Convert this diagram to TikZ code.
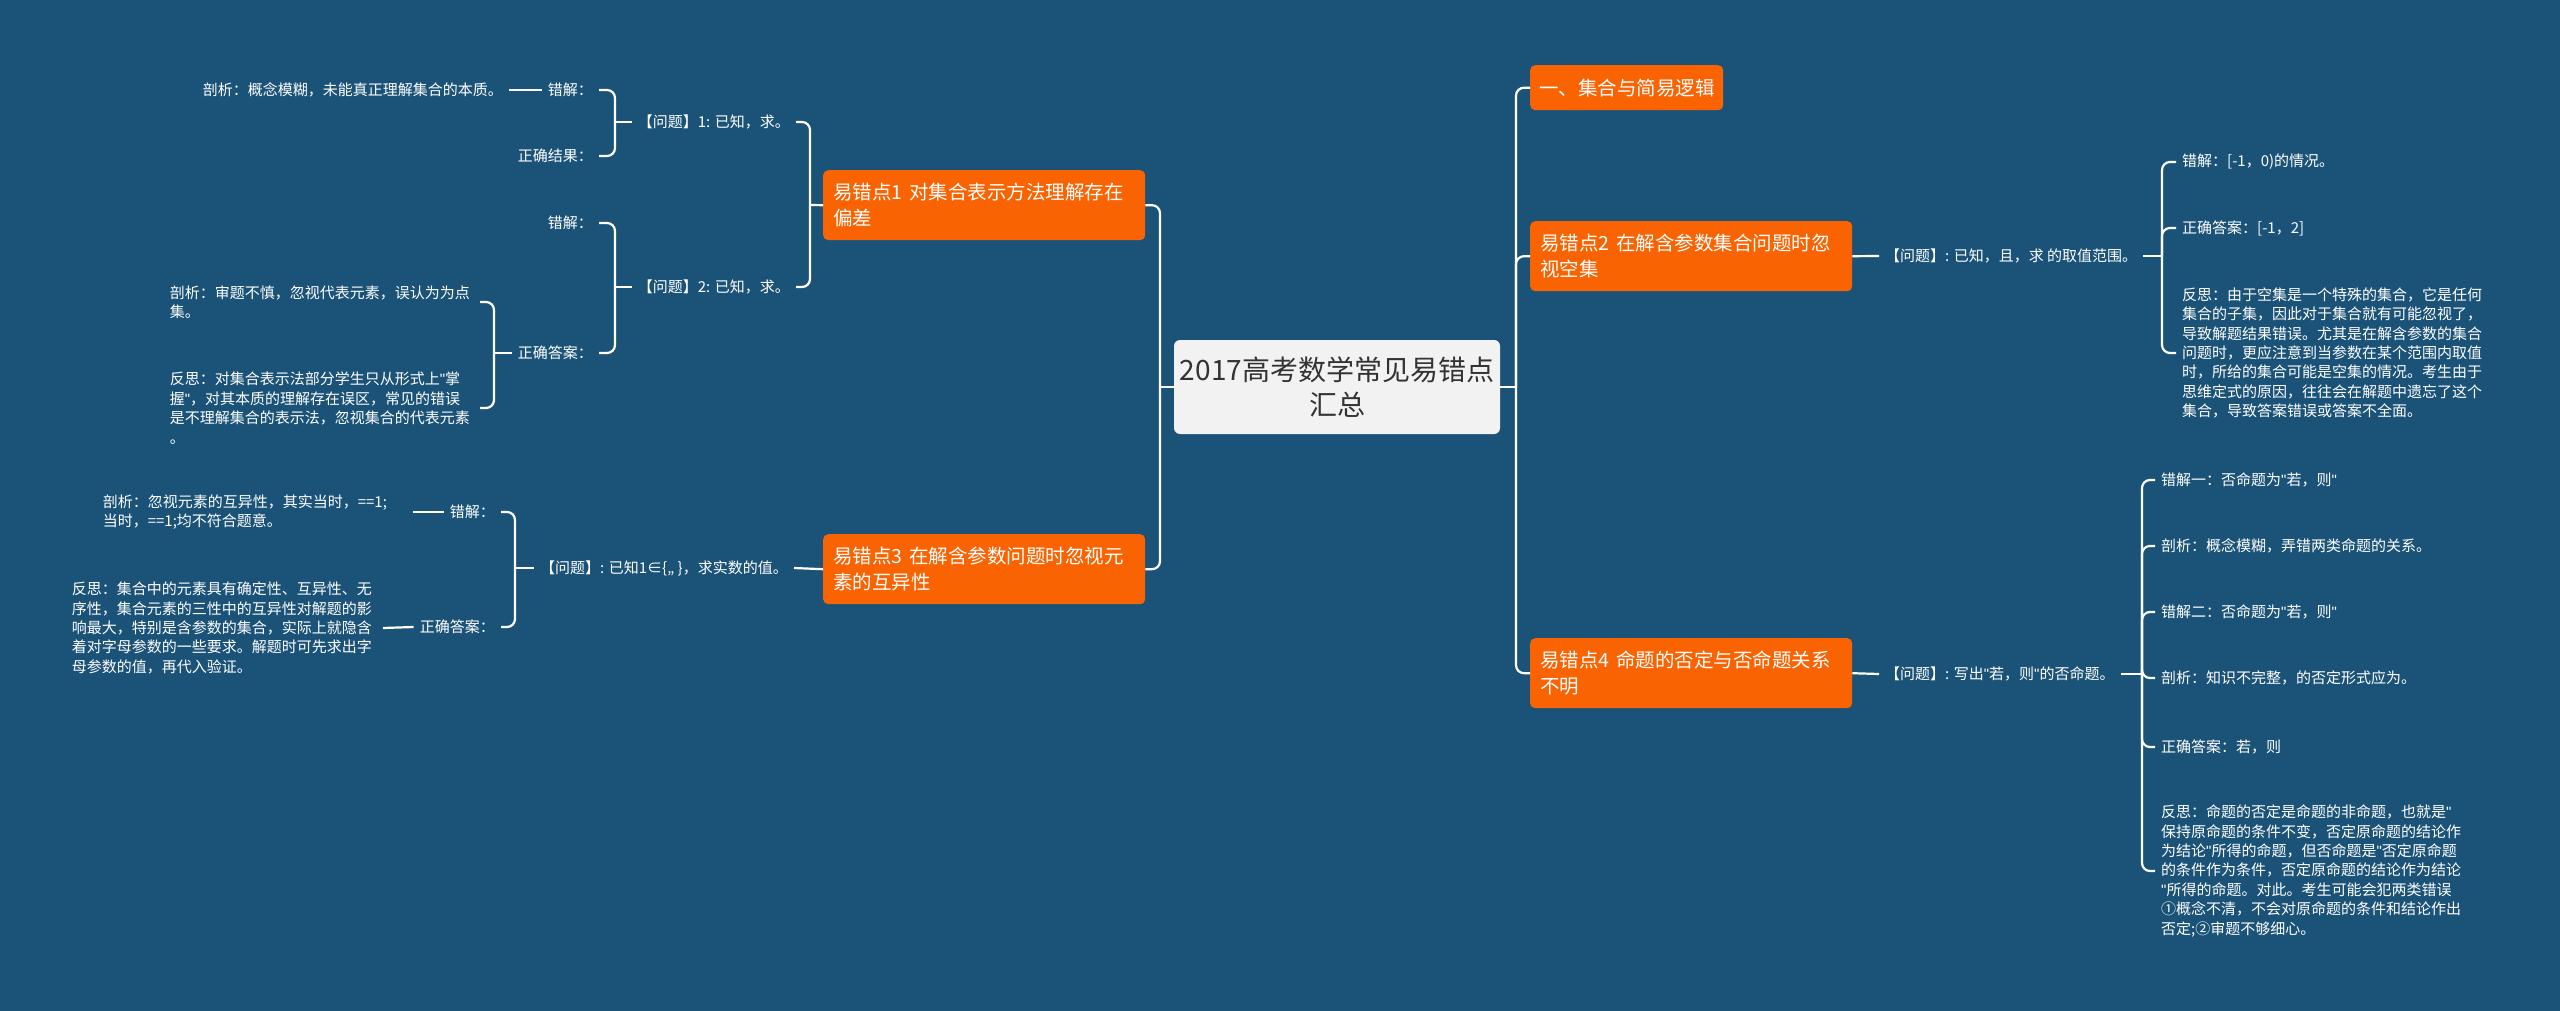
\documentclass[tikz,border=0pt]{standalone}
\usepackage{fontspec}
\setmainfont{Noto Sans CJK SC}
\newfontfamily\latinfnt{Liberation Sans}
\newcommand{\qmk}{{\latinfnt "}}
\definecolor{bg}{HTML}{1B5378}
\definecolor{org}{HTML}{F96302}
\definecolor{mainfill}{HTML}{F2F2F2}
\definecolor{maintext}{HTML}{333333}
\tikzset{
  rootbox/.style={fill=mainfill, rounded corners=6pt, text=maintext, font=\fontsize{28}{35}\selectfont, minimum width=326pt, minimum height=94pt, align=center, inner sep=0pt},
  lvlbox/.style={fill=org, rounded corners=5pt, text=white, font=\fontsize{19.5}{26}\selectfont, inner xsep=10pt, inner ysep=4pt, align=left, minimum height=70pt, anchor=north west},
  txt/.style={text=white, font=\fontsize{15}{19.4}\selectfont, inner xsep=6pt, inner ysep=3pt, align=left},
  link/.style={draw=white, line width=2.2pt},
  brk/.style={link, rounded corners=8pt},
}
\begin{document}
\begin{tikzpicture}[x=1pt,y=-1pt]
\useasboundingbox (0,0) rectangle (2560,1011);
\fill[bg] (0,0) rectangle (2560,1011);

% root and main topics
\node[rootbox] (root) at (1337,387) {2017高考数学常见易错点\\汇总};
\node[lvlbox, text width=302pt] (L1) at (823,170) {易错点1 对集合表示方法理解存在\\偏差};
\node[lvlbox, text width=302pt] (L3) at (823,534) {易错点3 在解含参数问题时忽视元\\素的互异性};
\node[lvlbox, text width=175pt, inner xsep=9pt, minimum height=45pt] (B0) at (1530,65) {一、集合与简易逻辑};
\node[lvlbox, text width=302pt] (B2) at (1530,221) {易错点2 在解含参数集合问题时忽\\视空集};
\node[lvlbox, text width=302pt] (B4) at (1530,638) {易错点4 命题的否定与否命题关系\\不明};

% left level 2
\node[txt, anchor=east] (Q1) at (796,122) {【问题】1: 已知，求。};
\node[txt, anchor=east] (Q2) at (796,287) {【问题】2: 已知，求。};
\node[txt, anchor=east] (Q3) at (794,568) {【问题】: 已知1∈\{,, \}，求实数的值。};

% left level 3
\node[txt, anchor=east] (E1) at (599,90) {错解：};
\node[txt, anchor=east] (R1) at (599,156) {正确结果：};
\node[txt, anchor=east] (A1) at (509,90) {剖析：概念模糊，未能真正理解集合的本质。};
\node[txt, anchor=east] (E2) at (599,223) {错解：};
\node[txt, anchor=east] (C2) at (599,353) {正确答案：};
\node[txt, anchor=east, text width=304pt] (A2) at (480,302) {剖析：审题不慎，忽视代表元素，误认为为点\\集。};
\node[txt, anchor=east, text width=304pt] (F2) at (480,408) {反思：对集合表示法部分学生只从形式上\qmk 掌\\握\qmk ，对其本质的理解存在误区，常见的错误\\是不理解集合的表示法，忽视集合的代表元素\\。};
\node[txt, anchor=east] (E3) at (501,512) {错解：};
\node[txt, anchor=east] (C3) at (501,627) {正确答案：};
\node[txt, anchor=east, text width=304pt] (A3) at (413,512) {剖析：忽视元素的互异性，其实当时，==1;\\当时，==1;均不符合题意。};
\node[txt, anchor=east, text width=305pt] (F3) at (383,628) {反思：集合中的元素具有确定性、互异性、无\\序性，集合元素的三性中的互异性对解题的影\\响最大，特别是含参数的集合，实际上就隐含\\着对字母参数的一些要求。解题时可先求出字\\母参数的值，再代入验证。};

% right side
\node[txt, anchor=west] (P2) at (1879,256) {【问题】: 已知，且，求 的取值范围。};
\node[txt, anchor=west] (W1) at (2176,162) {错解：[-1，0)的情况。};
\node[txt, anchor=west] (W2) at (2176,228) {正确答案：[-1，2]};
\node[txt, anchor=west, text width=310pt] (W3) at (2176,353) {反思：由于空集是一个特殊的集合，它是任何\\集合的子集，因此对于集合就有可能忽视了，\\导致解题结果错误。尤其是在解含参数的集合\\问题时，更应注意到当参数在某个范围内取值\\时，所给的集合可能是空集的情况。考生由于\\思维定式的原因，往往会在解题中遗忘了这个\\集合，导致答案错误或答案不全面。};

\node[txt, anchor=west] (P4) at (1879,674) {【问题】: 写出\qmk 若，则\qmk 的否命题。};
\node[txt, anchor=west] (V1) at (2155,480) {错解一：否命题为\qmk 若，则\qmk};
\node[txt, anchor=west] (V2) at (2155,546) {剖析：概念模糊，弄错两类命题的关系。};
\node[txt, anchor=west] (V3) at (2155,612) {错解二：否命题为\qmk 若，则\qmk};
\node[txt, anchor=west] (V4) at (2155,678) {剖析：知识不完整，的否定形式应为。};
\node[txt, anchor=west] (V5) at (2155,747) {正确答案：若，则};
\node[txt, anchor=west, text width=310pt] (V6) at (2155,871) {反思：命题的否定是命题的非命题，也就是\qmk\\保持原命题的条件不变，否定原命题的结论作\\为结论\qmk 所得的命题，但否命题是\qmk 否定原命题\\的条件作为条件，否定原命题的结论作为结论\\\qmk 所得的命题。对此。考生可能会犯两类错误\\①概念不清，不会对原命题的条件和结论作出\\否定;②审题不够细心。};

% spine coordinates
\coordinate (sRL) at (1160,387);
\coordinate (sRR) at (1516,387);
\coordinate (sL1) at (810,205);
\coordinate (sQ1) at (615,122);
\coordinate (sQ2) at (615,287);
\coordinate (sC2) at (494,353);
\coordinate (sQ3) at (515,568);
\coordinate (sP2) at (2162,256);
\coordinate (sP4) at (2142,674);

% connectors: root
\draw[link] (root.west) -- (sRL);
\draw[brk] (sRL) |- (L1.east);
\draw[brk] (sRL) |- (L3.east);
\draw[link] (root.east) -- (sRR);
\draw[brk] (sRR) |- (B0.west);
\draw[brk] (sRR) |- (B2.west);
\draw[brk] (sRR) |- (B4.west);

% left branch 1
\draw[link] (L1.west) -- (sL1);
\draw[brk] (sL1) |- (Q1.east);
\draw[brk] (sL1) |- (Q2.east);
\draw[link] (Q1.west) -- (sQ1);
\draw[brk] (sQ1) |- (E1.east);
\draw[brk] (sQ1) |- (R1.east);
\draw[link] (E1.west) -- (A1.east);
\draw[link] (Q2.west) -- (sQ2);
\draw[brk] (sQ2) |- (E2.east);
\draw[brk] (sQ2) |- (C2.east);
\draw[link] (C2.west) -- (sC2);
\draw[brk] (sC2) |- (A2.east);
\draw[brk] (sC2) |- (F2.east);

% left branch 3
\draw[link] (L3.west) -- (Q3.east);
\draw[link] (Q3.west) -- (sQ3);
\draw[brk] (sQ3) |- (E3.east);
\draw[brk] (sQ3) |- (C3.east);
\draw[link] (E3.west) -- (A3.east);
\draw[link] (C3.west) -- (F3.east);

% right branch 2
\draw[link] (B2.east) -- (P2.west);
\draw[link] (P2.east) -- (sP2);
\draw[brk] (sP2) |- (W1.west);
\draw[brk] (sP2) |- (W2.west);
\draw[brk] (sP2) |- (W3.west);

% right branch 4
\draw[link] (B4.east) -- (P4.west);
\draw[link] (P4.east) -- (sP4);
\draw[brk] (sP4) |- (V1.west);
\draw[brk] (sP4) |- (V2.west);
\draw[brk] (sP4) |- (V3.west);
\draw[brk] (sP4) |- (V4.west);
\draw[brk] (sP4) |- (V5.west);
\draw[brk] (sP4) |- (V6.west);
\end{tikzpicture}
\end{document}
